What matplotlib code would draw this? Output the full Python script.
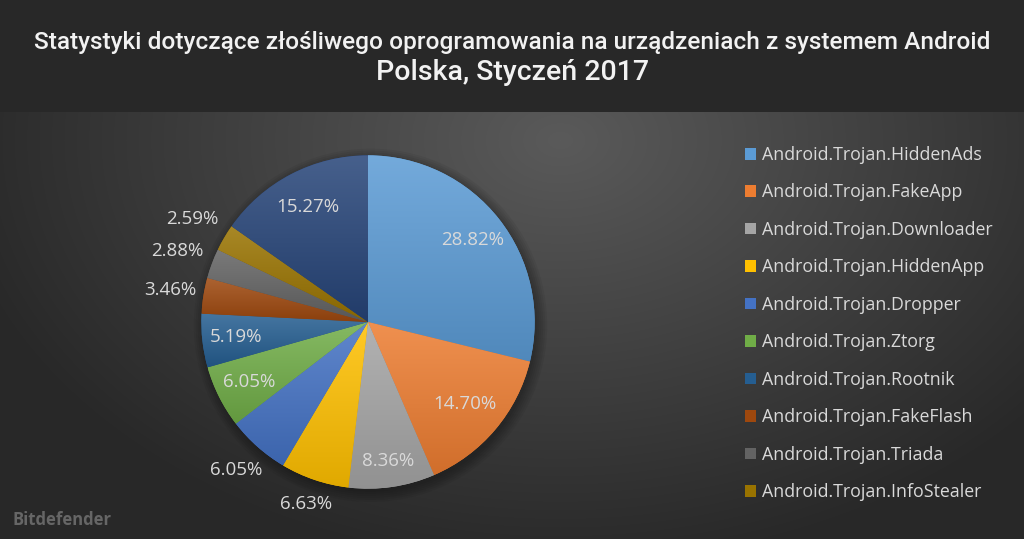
import matplotlib
matplotlib.use('Agg')
import matplotlib.pyplot as plt
import numpy as np
from matplotlib.colors import LinearSegmentedColormap, to_rgb

TITLE = 'Statystyki dotyczące złośliwego oprogramowania na urządzeniach z systemem Android'
SUBTITLE = 'Polska, Styczeń 2017'

FAMILIES = ['Android.Trojan.HiddenAds', 'Android.Trojan.FakeApp',
            'Android.Trojan.Downloader', 'Android.Trojan.HiddenApp',
            'Android.Trojan.Dropper', 'Android.Trojan.Ztorg',
            'Android.Trojan.Rootnik', 'Android.Trojan.FakeFlash',
            'Android.Trojan.Triada', 'Android.Trojan.InfoStealer']
# last slice has no legend entry in the source chart
SHARES = [28.82, 14.70, 8.36, 6.63, 6.05, 6.05, 5.19, 3.46, 2.88, 2.59, 15.27]

COLORS = ['#5B9BD5', '#ED7D31', '#A5A5A5', '#FFC000', '#4472C4', '#70AD47',
          '#255E91', '#9E480E', '#636363', '#997300', '#264478']
# how far from the centre each percentage sits (inside / outside the pie)
LABEL_RADII = [0.80, 0.76, 0.84, 1.15, 1.19, 0.80, 0.80, 1.20, 1.22, 1.22, 0.78]

W, H = 1024, 539
TEXT_GREY = '#d9d9d9'


def mix(color, other, f):
  c = np.array(to_rgb(color))
  o = np.array(to_rgb(other))
  return tuple(c + (o - c) * f)


def draw_background(fig):
  bg = fig.add_axes([0, 0, 1, 1], zorder=-10)
  yy, xx = np.mgrid[0:H, 0:W]
  d = np.sqrt(((xx - 560) / 620.0) ** 2 + ((yy - 140) / 430.0) ** 2)
  val = 0x5a - (0x5a - 0x28) * np.clip(d, 0, 1)
  val[yy < 112] = 0x28
  img = np.dstack([val] * 3) / 255.0
  bg.imshow(img, extent=[0, 1, 0, 1], aspect='auto', origin='upper')
  bg.set_xlim(0, 1)
  bg.set_ylim(0, 1)
  bg.axis('off')


def draw_pie(fig):
  ax = fig.add_axes([168 / W, 17 / H, 400 / W, 400 / H])
  # soft shadow
  for k in range(6):
    ax.add_patch(plt.Circle((0.015, -0.02), 1.0 + 0.012 * k, color='black',
                            alpha=0.05, lw=0, zorder=0))
  wedges, _ = ax.pie(SHARES, colors=COLORS, startangle=90, counterclock=False,
                     radius=1.0, wedgeprops=dict(linewidth=0))
  grad = np.linspace(0, 1, 256).reshape(-1, 1)
  for w, c in zip(wedges, COLORS):
    bb = w.get_path().get_extents()
    cmap = LinearSegmentedColormap.from_list('g', [mix(c, 'white', 0.15),
                                                   mix(c, 'black', 0.12)])
    im = ax.imshow(grad, cmap=cmap, extent=[bb.x0, bb.x1, bb.y0, bb.y1],
                   origin='upper', aspect='auto', zorder=2)
    im.set_clip_path(w)

  for w, share, r in zip(wedges, SHARES, LABEL_RADII):
    ang = np.deg2rad((w.theta1 + w.theta2) / 2.0)
    ax.text(r * np.cos(ang), r * np.sin(ang), '%.2f%%' % share,
            ha='center', va='center', color=TEXT_GREY, fontsize=13.5,
            family='Open Sans', zorder=5)

  ax.set_xlim(-1.2, 1.2)
  ax.set_ylim(-1.2, 1.2)
  ax.set_aspect('equal')
  ax.axis('off')

  ax.legend(wedges[:len(FAMILIES)], FAMILIES, loc='upper left',
            bbox_to_anchor=(745 / W, 1 - 146 / H),
            bbox_transform=fig.transFigure, frameon=False,
            prop=dict(family='Open Sans', size=12.8), labelcolor=TEXT_GREY,
            handlelength=0.62, handleheight=0.62, handletextpad=0.35,
            labelspacing=1.095, borderpad=0, borderaxespad=0)
  return ax


def main():
  fig = plt.figure(figsize=(W / 100, H / 100), dpi=100)
  draw_background(fig)
  draw_pie(fig)
  fig.text(0.5, 1 - 42 / H, TITLE, ha='center', va='center', color='#f2f2f2',
           fontsize=17.6, family='Roboto', fontweight='medium')
  fig.text(0.5, 1 - 73 / H, SUBTITLE, ha='center', va='center',
           color='#f2f2f2', fontsize=20.5, family='Roboto', fontweight='medium')
  fig.text(12 / W, 1 - 520 / H, 'Bitdefender', ha='left', va='center',
           color='#666666', fontsize=12, fontweight='bold', family='Open Sans')
  fig.savefig('out.png', dpi=100)


if __name__ == '__main__':
  main()
